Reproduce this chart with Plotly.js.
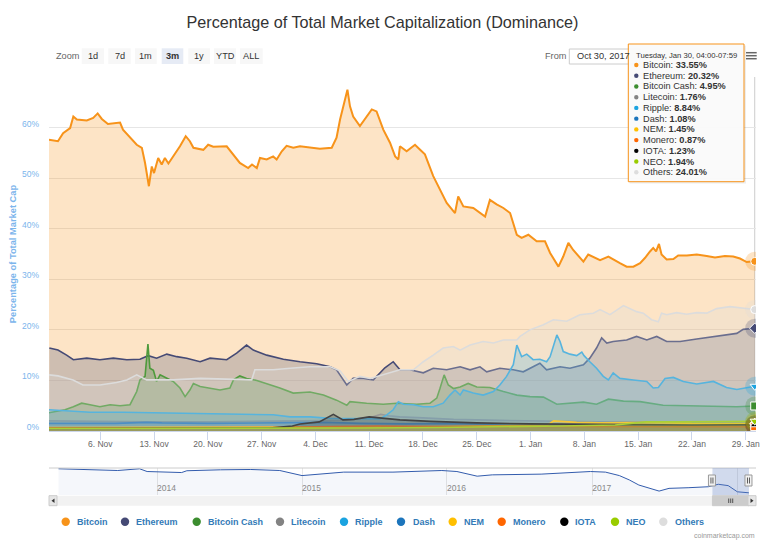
<!DOCTYPE html>
<html><head><meta charset="utf-8">
<script src="https://cdn.plot.ly/plotly-3.0.1.min.js"></script>
<style>html,body{margin:0;padding:0;background:#fff}#chart{width:768px;height:541px}</style>
</head><body><div id="chart"></div>
<script>
// ---------------- DATA ----------------
const seriesNames = ['Bitcoin','Ethereum','Bitcoin Cash','Litecoin','Ripple','Dash','NEM','Monero','IOTA','NEO','Others'];

const btcX = ['2017-10-30 08:00','2017-10-31 12:00','2017-11-01 04:00','2017-11-02 02:00','2017-11-02 12:00','2017-11-02 23:00','2017-11-04 06:00','2017-11-05 02:00','2017-11-05 16:00','2017-11-06 05:00',
'2017-11-07 00:00','2017-11-08 14:00','2017-11-08 23:00','2017-11-09 21:00','2017-11-10 18:00','2017-11-11 10:00','2017-11-11 20:00','2017-11-12 08:00','2017-11-12 17:00','2017-11-13 00:00',
'2017-11-13 13:00','2017-11-14 00:00','2017-11-14 10:00','2017-11-14 21:00','2017-11-15 12:00','2017-11-16 09:00','2017-11-17 03:00','2017-11-17 16:00','2017-11-18 03:00','2017-11-19 10:00',
'2017-11-20 01:00','2017-11-20 17:00','2017-11-22 11:00','2017-11-23 08:00','2017-11-24 04:00','2017-11-25 06:00','2017-11-25 18:00','2017-11-26 09:00','2017-11-26 19:00','2017-11-27 16:00',
'2017-11-28 12:00','2017-11-28 23:00','2017-11-29 15:00','2017-11-30 06:00','2017-12-01 03:00','2017-12-02 00:00','2017-12-03 07:00','2017-12-04 14:00','2017-12-06 03:00','2017-12-06 18:00',
'2017-12-07 05:00','2017-12-07 15:00','2017-12-08 04:00','2017-12-08 12:00','2017-12-08 22:00','2017-12-09 19:00','2017-12-10 16:00','2017-12-11 08:00','2017-12-11 23:00','2017-12-12 20:00',
'2017-12-13 17:00','2017-12-14 09:00','2017-12-14 19:00','2017-12-15 00:00','2017-12-15 21:00','2017-12-16 23:00','2017-12-17 15:00','2017-12-18 06:00','2017-12-19 08:00','2017-12-20 10:00',
'2017-12-21 02:00','2017-12-22 04:00','2017-12-22 14:00','2017-12-23 06:00','2017-12-24 13:00','2017-12-26 02:00','2017-12-26 17:00','2017-12-27 14:00','2017-12-28 11:00','2017-12-29 08:00',
'2017-12-30 05:00','2017-12-30 20:00','2017-12-31 17:00','2018-01-01 19:00','2018-01-02 21:00','2018-01-03 13:00','2018-01-04 15:00','2018-01-05 06:00','2018-01-05 22:00','2018-01-06 13:00',
'2018-01-07 21:00','2018-01-08 12:00','2018-01-10 01:00','2018-01-11 03:00','2018-01-11 18:00','2018-01-12 15:00','2018-01-13 12:00','2018-01-14 09:00','2018-01-15 06:00','2018-01-15 21:00',
'2018-01-16 13:00','2018-01-16 23:00','2018-01-17 08:00','2018-01-17 17:00','2018-01-18 01:00','2018-01-18 17:00','2018-01-19 14:00','2018-01-20 05:00','2018-01-21 08:00','2018-01-22 15:00',
'2018-01-23 22:00','2018-01-25 00:00','2018-01-26 07:00','2018-01-27 09:00','2018-01-28 06:00','2018-01-29 03:00','2018-01-30 04:00'];
const btcY = [57.6,57.3,58.9,59.9,62.2,61.6,61.4,61.9,62.8,61.7,
60.7,61.0,59.6,58.0,56.6,56.0,53.0,48.4,52.3,51.0,
54.0,52.7,54.0,52.9,54.3,56.3,58.3,57.3,56.0,55.6,
56.6,56.2,56.3,54.7,53.0,52.0,52.7,52.0,54.0,53.7,
54.3,53.7,55.3,56.4,56.0,56.3,56.0,55.8,56.0,58.0,
61.6,64.2,67.5,64.2,62.2,60.3,62.2,63.6,63.2,59.6,
57.0,54.3,53.7,56.3,55.3,56.6,55.6,54.7,50.4,47.1,
45.1,43.1,46.4,44.4,44.1,42.4,45.7,44.8,44.1,43.1,
38.8,38.2,38.8,37.5,37.5,35.2,32.5,34.5,37.2,35.8,
33.5,34.9,33.8,34.5,33.9,33.2,32.5,32.5,33.2,34.2,
35.5,36.2,35.5,37.0,34.9,33.9,34.0,34.7,34.7,34.9,
34.6,34.3,34.6,34.5,34.1,33.4,33.55];

const ethX = ['2017-10-30 09:00','2017-10-31 12:00','2017-11-01 15:00','2017-11-02 12:00','2017-11-04 06:00','2017-11-05 23:00','2017-11-07 17:00','2017-11-09 11:00','2017-11-11 04:00','2017-11-12 06:00',
'2017-11-13 08:00','2017-11-14 16:00','2017-11-15 23:00','2017-11-17 06:00','2017-11-19 00:00','2017-11-20 07:00','2017-11-22 11:00','2017-11-23 18:00','2017-11-25 01:00','2017-11-25 22:00',
'2017-11-27 16:00','2017-11-29 20:00','2017-12-02 00:00','2017-12-04 04:00','2017-12-05 22:00','2017-12-06 18:00','2017-12-08 02:00','2017-12-08 22:00','2017-12-10 06:00','2017-12-11 13:00',
'2017-12-13 01:00','2017-12-14 03:00','2017-12-15 00:00','2017-12-16 07:00','2017-12-18 01:00','2017-12-19 08:00','2017-12-21 02:00','2017-12-22 20:00','2017-12-24 03:00','2017-12-25 10:00',
'2017-12-26 07:00','2017-12-28 00:00','2017-12-29 18:00','2017-12-31 01:00','2018-01-02 05:00','2018-01-03 02:00','2018-01-04 20:00','2018-01-06 03:00','2018-01-07 21:00','2018-01-08 17:00',
'2018-01-09 14:00','2018-01-10 06:00','2018-01-10 22:00','2018-01-11 18:00','2018-01-13 12:00','2018-01-14 19:00','2018-01-16 03:00','2018-01-17 10:00','2018-01-18 17:00','2018-01-20 11:00',
'2018-01-22 15:00','2018-01-24 19:00','2018-01-26 12:00','2018-01-27 20:00','2018-01-28 16:00','2018-01-30 04:00'];
const ethY = [16.4,16.0,15.0,14.1,14.4,14.1,14.4,14.1,14.2,14.9,
14.4,15.2,14.7,14.4,13.7,14.4,14.1,15.4,17.0,16.0,
15.0,14.2,13.7,13.3,12.7,12.1,9.1,10.4,10.4,10.1,
12.5,13.7,12.1,12.1,11.5,12.4,12.1,12.7,12.1,12.7,
11.7,12.4,12.1,11.7,13.4,12.1,12.7,12.4,13.1,14.4,
16.4,18.4,17.4,17.7,18.0,18.7,18.0,18.7,17.7,17.7,
18.2,18.7,19.0,19.3,20.1,20.32];

const bchX = ['2017-10-30 08:00','2017-11-01 10:00','2017-11-02 12:00','2017-11-03 14:00','2017-11-04 16:00','2017-11-05 23:00','2017-11-07 07:00','2017-11-08 14:00','2017-11-09 21:00','2017-11-10 18:00',
'2017-11-11 04:00','2017-11-11 20:00','2017-11-12 05:00','2017-11-12 11:00','2017-11-12 22:00','2017-11-13 08:00','2017-11-13 19:00','2017-11-14 16:00','2017-11-15 12:00','2017-11-16 09:00',
'2017-11-17 01:00','2017-11-17 16:00','2017-11-18 03:00','2017-11-19 00:00','2017-11-20 07:00','2017-11-21 14:00','2017-11-22 21:00','2017-11-23 08:00','2017-11-24 04:00','2017-11-25 01:00',
'2017-11-26 09:00','2017-11-27 16:00','2017-11-29 09:00','2017-12-01 03:00','2017-12-03 07:00','2017-12-05 01:00','2017-12-06 18:00','2017-12-08 02:00','2017-12-08 12:00','2017-12-10 16:00',
'2017-12-12 20:00','2017-12-14 14:00','2017-12-17 04:00','2017-12-18 22:00','2017-12-19 19:00','2017-12-20 05:00','2017-12-20 18:00','2017-12-21 07:00','2017-12-21 23:00','2017-12-22 20:00',
'2017-12-23 21:00','2017-12-25 00:00','2017-12-26 17:00','2017-12-28 11:00','2017-12-30 05:00','2017-12-31 22:00','2018-01-02 16:00','2018-01-04 10:00','2018-01-06 03:00','2018-01-07 21:00',
'2018-01-09 14:00','2018-01-11 03:00','2018-01-13 02:00','2018-01-15 06:00','2018-01-18 06:00','2018-01-21 18:00','2018-01-25 05:00','2018-01-27 20:00','2018-01-30 04:00'];
const bchY = [3.6,4.2,4.8,5.5,5.2,4.8,5.2,5.0,5.2,7.8,
10.1,10.8,17.2,12.4,12.0,9.8,11.1,10.4,9.8,8.5,
6.8,8.1,9.4,8.8,8.5,8.1,8.5,10.1,10.9,10.4,
10.0,9.4,8.5,7.5,7.7,7.1,6.1,5.1,5.8,5.5,
5.3,5.5,5.3,5.5,6.5,8.4,11.1,9.1,8.4,8.7,
9.4,8.7,8.6,7.8,7.1,6.8,6.7,5.3,5.5,5.7,
5.3,6.3,5.9,5.8,5.1,5.0,4.9,4.8,4.95];

const ltcX = ['2017-10-30 08:00','2017-11-05 00:00','2017-11-12 06:00','2017-11-20 00:00','2017-11-27 00:00','2017-12-04 00:00','2017-12-08 00:00','2017-12-11 12:00','2017-12-12 12:00','2017-12-13 12:00',
'2017-12-15 00:00','2017-12-18 00:00','2017-12-22 00:00','2017-12-28 00:00','2018-01-03 00:00','2018-01-10 00:00','2018-01-18 00:00','2018-01-25 00:00','2018-01-30 04:00'];
const ltcY = [2.0,1.9,1.8,1.8,1.9,2.0,2.1,2.8,3.3,3.0,2.8,2.6,2.3,2.1,1.9,1.8,1.8,1.75,1.76];

const xrpX = ['2017-10-30 08:00','2017-11-02 02:00','2017-11-04 16:00','2017-11-09 00:00','2017-11-13 08:00','2017-11-17 16:00','2017-11-22 00:00','2017-11-26 09:00','2017-11-28 12:00','2017-11-30 17:00',
'2017-12-03 07:00','2017-12-05 22:00','2017-12-09 09:00','2017-12-12 10:00','2017-12-13 07:00','2017-12-14 03:00','2017-12-14 19:00','2017-12-15 11:00','2017-12-16 18:00','2017-12-18 01:00',
'2017-12-19 08:00','2017-12-20 15:00','2017-12-21 12:00','2017-12-22 04:00','2017-12-22 20:00','2017-12-23 06:00','2017-12-24 13:00','2017-12-25 20:00','2017-12-27 04:00','2017-12-28 00:00',
'2017-12-28 21:00','2017-12-29 18:00','2017-12-30 05:00','2017-12-30 20:00','2017-12-31 12:00','2018-01-01 08:00','2018-01-02 05:00','2018-01-03 02:00','2018-01-03 13:00','2018-01-03 23:00',
'2018-01-04 10:00','2018-01-04 20:00','2018-01-05 06:00','2018-01-06 03:00','2018-01-07 00:00','2018-01-07 16:00','2018-01-07 23:00','2018-01-08 17:00','2018-01-09 14:00','2018-01-10 11:00',
'2018-01-11 03:00','2018-01-11 18:00','2018-01-12 15:00','2018-01-14 09:00','2018-01-16 03:00','2018-01-16 23:00','2018-01-17 15:00','2018-01-18 12:00','2018-01-19 14:00','2018-01-20 21:00',
'2018-01-22 15:00','2018-01-24 19:00','2018-01-26 12:00','2018-01-27 20:00','2018-01-29 03:00','2018-01-30 04:00'];
const xrpY = [4.2,4.0,3.7,3.7,3.6,3.5,3.3,3.3,3.2,2.8,
2.8,2.5,2.4,2.4,3.2,4.2,5.8,5.3,5.2,4.8,
4.8,5.5,7.1,8.1,7.1,8.1,7.5,7.1,7.8,9.1,
10.8,13.1,17.0,14.7,15.2,14.1,14.2,13.7,14.7,16.6,
19.0,17.7,15.7,15.2,14.9,15.6,14.9,13.7,12.4,10.8,
10.1,11.5,10.4,10.1,9.8,8.5,8.6,10.4,10.6,9.8,
9.3,9.8,8.6,8.2,8.6,8.84];

const dashX = ['2017-10-30 08:00','2017-11-08 00:00','2017-11-12 00:00','2017-11-14 00:00','2017-11-20 00:00','2017-11-28 00:00','2017-12-05 00:00','2017-12-10 00:00','2017-12-16 00:00','2017-12-22 00:00',
'2017-12-28 00:00','2018-01-05 00:00','2018-01-12 00:00','2018-01-20 00:00','2018-01-30 04:00'];
const dashY = [1.5,1.5,1.7,1.6,1.5,1.6,1.7,1.5,1.4,1.5,1.3,1.2,1.1,1.05,1.08];

const nemX = ['2017-10-30 08:00','2017-11-15 00:00','2017-11-30 00:00','2017-12-10 00:00','2017-12-20 00:00','2017-12-31 00:00','2018-01-03 06:00','2018-01-04 00:00','2018-01-05 00:00','2018-01-07 00:00',
'2018-01-10 00:00','2018-01-14 00:00','2018-01-17 00:00','2018-01-22 00:00','2018-01-30 04:00'];
const nemY = [0.7,0.7,0.8,0.8,0.9,1.1,1.2,2.0,1.9,1.7,1.6,1.6,1.7,1.5,1.45];

const xmrX = ['2017-10-30 08:00','2017-11-15 00:00','2017-11-28 00:00','2017-12-06 00:00','2017-12-12 00:00','2017-12-20 00:00','2017-12-30 00:00','2018-01-08 00:00','2018-01-18 00:00','2018-01-30 04:00'];
const xmrY = [0.6,0.6,0.7,0.9,1.0,0.9,0.9,0.9,0.85,0.87];

const iotaX = ['2017-10-30 08:00','2017-11-20 00:00','2017-11-28 00:00','2017-12-01 00:00','2017-12-02 00:00','2017-12-04 12:00','2017-12-06 08:00','2017-12-07 14:00','2017-12-09 00:00','2017-12-11 00:00',
'2017-12-13 06:00','2017-12-15 00:00','2017-12-19 00:00','2017-12-25 00:00','2018-01-01 00:00','2018-01-08 00:00','2018-01-15 00:00','2018-01-22 00:00','2018-01-30 04:00'];
const iotaY = [0.5,0.5,0.6,1.0,1.4,1.8,3.3,2.2,2.3,2.8,2.4,2.2,1.9,1.6,1.4,1.3,1.2,1.2,1.23];

const neoX = ['2017-10-30 08:00','2017-11-10 00:00','2017-11-20 00:00','2017-12-01 00:00','2017-12-10 00:00','2017-12-20 00:00','2017-12-28 00:00','2018-01-05 00:00','2018-01-12 00:00','2018-01-14 00:00',
'2018-01-16 00:00','2018-01-20 00:00','2018-01-25 00:00','2018-01-30 04:00'];
const neoY = [0.5,0.5,0.6,0.6,0.6,0.7,0.8,1.0,1.2,1.5,1.8,1.8,1.9,1.94];

const othX = ['2017-10-30 08:00','2017-10-31 12:00','2017-11-02 11:00','2017-11-03 18:00','2017-11-05 23:00','2017-11-08 03:00','2017-11-09 11:00','2017-11-10 18:00','2017-11-12 01:00','2017-11-13 08:00',
'2017-11-15 12:00','2017-11-19 00:00','2017-11-23 08:00','2017-11-25 17:00','2017-11-26 03:00','2017-11-28 12:00','2017-11-30 17:00','2017-12-03 07:00','2017-12-05 22:00','2017-12-07 05:00',
'2017-12-08 07:00','2017-12-09 19:00','2017-12-11 03:00','2017-12-12 20:00','2017-12-15 00:00','2017-12-16 18:00','2017-12-18 01:00','2017-12-19 08:00','2017-12-20 15:00','2017-12-21 23:00',
'2017-12-22 20:00','2017-12-24 03:00','2017-12-25 20:00','2017-12-27 04:00','2017-12-28 11:00','2017-12-30 05:00','2017-12-30 15:00','2017-12-31 22:00','2018-01-02 16:00','2018-01-03 23:00',
'2018-01-05 17:00','2018-01-07 10:00','2018-01-09 04:00','2018-01-10 01:00','2018-01-11 08:00','2018-01-13 02:00','2018-01-14 19:00','2018-01-15 16:00','2018-01-16 18:00','2018-01-17 15:00',
'2018-01-18 01:00','2018-01-18 17:00','2018-01-20 00:00','2018-01-21 08:00','2018-01-22 15:00','2018-01-23 22:00','2018-01-25 05:00','2018-01-26 23:00','2018-01-28 06:00','2018-01-30 04:00'];
const othY = [11.1,10.9,10.1,9.1,9.1,9.6,10.1,11.1,10.1,10.1,
10.1,10.4,10.3,10.1,12.1,12.1,12.4,12.7,12.7,11.9,
9.8,10.8,10.4,11.1,12.1,12.1,13.7,15.0,16.4,16.7,
16.0,17.0,17.7,17.4,18.0,18.0,18.7,20.0,21.0,22.0,
21.7,23.0,23.3,24.0,23.0,24.8,23.6,23.3,22.0,21.6,
23.3,23.0,23.4,23.1,23.4,23.3,24.2,24.6,24.4,24.01];

// navigator: Bitcoin dominance, whole history
const navX = ['2013-04-28','2013-08-05','2013-09-24','2013-11-18','2013-12-07','2014-03-04','2014-03-17','2014-06-10','2014-08-25','2014-11-06',
'2014-12-14','2015-01-01','2015-04-16','2015-08-18','2015-12-19','2016-01-26','2016-03-17','2016-04-24','2016-08-25','2016-12-27',
'2017-02-03','2017-03-10','2017-04-04','2017-04-28','2017-06-18','2017-07-13','2017-08-30','2017-10-20','2017-11-14','2017-12-09',
'2018-01-01','2018-01-26','2018-01-30'];
const navY = [95,92.4,90.6,95,88,85.4,90,92.4,93.2,90.6,
81.3,77.6,86.5,86.5,90.6,88,76.1,79.5,81.3,88,
86.5,77.6,66.5,53.5,38,45,46.6,49.1,55.4,52,
36.2,34.6,33.6];

const yTickVals = [0,10,20,30,40,50,60,70];
const yTickText = ['0%','10%','20%','30%','40%','50%','60%',''];
const zoomButtons = ['1d','7d','1m','3m','1y','YTD','ALL'];
const tooltipHeader = 'Tuesday, Jan 30, 04:00-07:59';
const mainRange = ['2017-10-30 08:00','2018-01-30 08:00'];
const navRange = ['2013-04-04','2018-02-17'];

// ---------------- STYLE ----------------
const seriesColors = ['#f7931a','#454a75','#3c8d2f','#838383','#1aa3e0','#1c75bc','#ffbf00','#ff6600','#000000','#99cc00','#dddddd'];
const lineColors   = ['#f7931a','#454a75','#4e9a3c','#838383','#2aa7df','#1c75bc','#ffbf00','#ff6600','#111111','#99cc00','#dcdcdc'];
const seriesSymbols = ['circle','diamond','square','triangle-up','triangle-down','circle','diamond','square','triangle-up','triangle-down','circle'];
const FONT = 'Liberation Sans, Arial, sans-serif';

const W=768,H=541,ML=49,MR=12,MT=77,MB=46;
const PW=W-ML-MR, PH=H-MT-MB;
const px = v => (v-ML)/PW;
const py = v => (H-MB-v)/PH;

function rgba(hex,a){const n=parseInt(hex.slice(1),16);return `rgba(${n>>16},${(n>>8)&255},${n&255},${a})`;}

const seriesX=[btcX,ethX,bchX,ltcX,xrpX,dashX,nemX,xmrX,iotaX,neoX,othX];
const seriesY=[btcY,ethY,bchY,ltcY,xrpY,dashY,nemY,xmrY,iotaY,neoY,othY];

const traces=[];
seriesNames.forEach((name,i)=>{
  traces.push({type:'scatter',mode:'lines',name:name,x:seriesX[i],y:seriesY[i],
    fill:'tozeroy',fillcolor:rgba(seriesColors[i],0.25),
    line:{color:lineColors[i],width:i===0?2:1.6},showlegend:false,xaxis:'x',yaxis:'y'});
});
const lastX = seriesX.map(a=>a[a.length-1]);
const lastY = seriesY.map(a=>a[a.length-1]);
traces.push({type:'scatter',mode:'markers',x:lastX,y:lastY,showlegend:false,
  marker:{size:19,color:seriesColors,opacity:0.25,line:{width:0}}});
traces.push({type:'scatter',mode:'markers',x:lastX,y:lastY,showlegend:false,
  marker:{size:8,color:seriesColors,symbol:seriesSymbols,line:{color:'#ffffff',width:1}}});
traces.push({type:'scatter',mode:'lines',x:navX,y:navY,xaxis:'x2',yaxis:'y2',showlegend:false,
  fill:'tozeroy',fillcolor:'rgba(51,92,173,0.05)',line:{color:'#335cad',width:1}});

const mainBottom = py(431);
const navTop = py(468);

const shapes=[];
const annotations=[];

// crosshair at hovered point
shapes.push({type:'line',xref:'x',yref:'paper',x0:lastX[0],x1:lastX[0],y0:mainBottom,y1:1,line:{color:'#cccccc',width:1},layer:'below'});

// navigator decorations
shapes.push({type:'line',xref:'paper',yref:'paper',x0:0,x1:1,y0:navTop,y1:navTop,line:{color:'#cccccc',width:1}});
shapes.push({type:'rect',xref:'x2',yref:'paper',x0:mainRange[0],x1:mainRange[1],y0:0,y1:navTop,fillcolor:'rgba(102,133,194,0.3)',line:{width:0}});
mainRange.forEach(d=>{
  shapes.push({type:'rect',xref:'x2',yref:'paper',xsizemode:'pixel',xanchor:d,x0:-4,x1:3,y0:py(486),y1:py(475),fillcolor:'#f2f2f2',line:{color:'#999999',width:1}});
  shapes.push({type:'line',xref:'x2',yref:'paper',xsizemode:'pixel',xanchor:d,x0:-1.5,x1:-1.5,y0:py(483.5),y1:py(477.5),line:{color:'#333',width:0.8}});
  shapes.push({type:'line',xref:'x2',yref:'paper',xsizemode:'pixel',xanchor:d,x0:0.5,x1:0.5,y0:py(483.5),y1:py(477.5),line:{color:'#333',width:0.8}});
});
// scrollbar
shapes.push({type:'rect',xref:'paper',yref:'paper',x0:0,x1:1,y0:py(505.7),y1:py(495.7),fillcolor:'#f2f2f2',line:{width:0}});
shapes.push({type:'rect',xref:'x2',yref:'paper',x0:mainRange[0],x1:mainRange[1],y0:py(505.7),y1:py(495.7),fillcolor:'#cccccc',line:{color:'#cccccc',width:1}});
shapes.push({type:'rect',xref:'paper',yref:'paper',x0:px(49),x1:px(57),y0:py(505.7),y1:py(495.7),fillcolor:'#e6e6e6',line:{color:'#cccccc',width:1}});
shapes.push({type:'rect',xref:'paper',yref:'paper',x0:px(748),x1:px(756),y0:py(505.7),y1:py(495.7),fillcolor:'#e6e6e6',line:{color:'#cccccc',width:1}});
shapes.push({type:'path',xref:'paper',yref:'paper',path:`M${px(51.5)},${py(500.7)} L${px(54.5)},${py(498.5)} L${px(54.5)},${py(502.9)} Z`,fillcolor:'#333',line:{width:0}});
shapes.push({type:'path',xref:'paper',yref:'paper',path:`M${px(753.5)},${py(500.7)} L${px(750.5)},${py(498.5)} L${px(750.5)},${py(502.9)} Z`,fillcolor:'#333',line:{width:0}});
const midT = new Date((new Date(mainRange[0]+'Z').getTime()+new Date(mainRange[1]+'Z').getTime())/2).toISOString().slice(0,16).replace('T',' ');
[-2,0,2].forEach(o=>shapes.push({type:'line',xref:'x2',yref:'paper',xsizemode:'pixel',xanchor:midT,x0:o,x1:o,y0:py(503),y1:py(498.5),line:{color:'#333',width:0.8}}));

// range selector buttons
const btnL=[81.7,108.3,135,161.7,188.3,214,240], btnR=[104,130.7,156.7,183.3,210,236,262.7];
annotations.push({xref:'paper',yref:'paper',x:px(54.3),y:py(55.7),xanchor:'left',yanchor:'middle',text:'Zoom',showarrow:false,font:{size:9.2,color:'#666666',family:FONT}});
zoomButtons.forEach((b,i)=>{
  const sel = b==='3m';
  shapes.push({type:'rect',xref:'paper',yref:'paper',x0:px(btnL[i]),x1:px(btnR[i]),y0:py(64),y1:py(48.3),fillcolor:sel?'#e6ebf5':'#f7f7f7',line:{width:0}});
  annotations.push({xref:'paper',yref:'paper',x:px((btnL[i]+btnR[i])/2),y:py(56),xanchor:'center',yanchor:'middle',text:sel?'<b>'+b+'</b>':b,showarrow:false,font:{size:9.2,color:'#333333',family:FONT}});
});
// From input
annotations.push({xref:'paper',yref:'paper',x:px(542.7),y:py(55.7),xanchor:'left',yanchor:'middle',text:'From',showarrow:false,font:{size:9.2,color:'#666666',family:FONT}});
shapes.push({type:'rect',xref:'paper',yref:'paper',x0:px(569.3),x1:px(640),y0:py(64),y1:py(49),fillcolor:'#ffffff',line:{color:'#cccccc',width:1}});
annotations.push({xref:'paper',yref:'paper',x:px(575),y:py(56.5),xanchor:'left',yanchor:'middle',text:'Oct 30, 2017',showarrow:false,font:{size:9.2,color:'#333333',family:FONT}});
// hamburger
[52.7,55.7,58.7].forEach(y=>shapes.push({type:'line',xref:'paper',yref:'paper',x0:px(746),x1:px(756.7),y0:py(y),y1:py(y),line:{color:'#666666',width:1.5}}));

// tooltip
shapes.push({type:'rect',xref:'paper',yref:'paper',x0:px(629.5),x1:px(746),y0:py(183.5),y1:py(45.5),fillcolor:'rgba(0,0,0,0.07)',line:{width:0},layer:'above'});
shapes.push({type:'rect',xref:'paper',yref:'paper',x0:px(628.3),x1:px(744),y0:py(181.7),y1:py(44),fillcolor:'rgba(250,250,250,0.96)',line:{color:'#f7931a',width:1},layer:'above'});
annotations.push({xref:'paper',yref:'paper',x:px(634),y:py(55),xanchor:'left',yanchor:'middle',text:tooltipHeader,showarrow:false,font:{size:7.7,color:'#333333',family:FONT}});
seriesNames.forEach((n,i)=>{
  const ry = 65 + i*10.73;
  shapes.push({type:'circle',xref:'paper',yref:'paper',xsizemode:'pixel',ysizemode:'pixel',xanchor:px(636.3),yanchor:py(ry),x0:-2.2,x1:2.2,y0:-2.2,y1:2.2,fillcolor:seriesColors[i],line:{width:0},layer:'above'});
  annotations.push({xref:'paper',yref:'paper',x:px(640.5),y:py(ry),xanchor:'left',yanchor:'middle',text:n+': <b>'+lastY[i].toFixed(2)+'%</b>',showarrow:false,font:{size:9.2,color:'#333333',family:FONT}});
});

// legend
const legCX=[65.7,125,196.7,280,344,401,452.7,501.7,564.3,615,663.3];
const legTX=[75,134.3,206,289.3,353.3,411,462,511,573.3,624.3,672.7];
seriesNames.forEach((n,i)=>{
  shapes.push({type:'circle',xref:'paper',yref:'paper',xsizemode:'pixel',ysizemode:'pixel',xanchor:px(legCX[i]),yanchor:py(521.7),x0:-4.2,x1:4.2,y0:-4.2,y1:4.2,fillcolor:seriesColors[i],line:{width:0}});
  annotations.push({xref:'paper',yref:'paper',x:px(legTX[i]),y:py(521.7),xanchor:'left',yanchor:'middle',text:'<b>'+n+'</b>',showarrow:false,font:{size:9,color:'#337ab7',family:FONT}});
});
annotations.push({xref:'paper',yref:'paper',x:px(756.5),y:py(535.7),xanchor:'right',yanchor:'middle',text:'coinmarketcap.com',showarrow:false,font:{size:7,color:'#999999',family:FONT}});

const layout={
  width:W,height:H,margin:{l:ML,r:MR,t:MT,b:MB,pad:0},
  paper_bgcolor:'#ffffff',plot_bgcolor:'rgba(0,0,0,0)',
  font:{family:FONT,color:'#333333'},
  showlegend:false,
  title:{text:'Percentage of Total Market Capitalization (Dominance)',xref:'container',yref:'container',x:0.498,y:1-22/H,xanchor:'center',yanchor:'middle',font:{size:16.2,color:'#333333',family:FONT}},
  xaxis:{domain:[0,1],anchor:'y',type:'date',range:mainRange,tick0:'2017-11-06',dtick:7*86400000,tickformat:'%-d. %b',
    ticks:'outside',ticklen:8,tickcolor:'#ccd6eb',tickwidth:1,tickfont:{size:8.5,color:'#666666'},ticklabelstandoff:-3,
    showgrid:false,showline:true,linecolor:'#ccd6eb',linewidth:1,zeroline:false,fixedrange:true},
  yaxis:{domain:[mainBottom,1],anchor:'x',range:[0,70],tickvals:yTickVals,ticktext:yTickText,
    gridcolor:'#e6e6e6',gridwidth:1,zeroline:false,showline:false,ticks:'',
    tickfont:{size:8.5,color:'#7cb5ec'},ticklabelshift:-4,ticklabelstandoff:9,
    title:{text:'<b>Percentage of Total Market Cap</b>',font:{size:9.3,color:'#7cb5ec'},standoff:3},fixedrange:true},
  xaxis2:{domain:[0,1],anchor:'y2',type:'date',range:navRange,tick0:'2014-01-01',dtick:'M12',tickformat:'%Y',
    ticklabelposition:'inside right',ticklabelstandoff:-4,ticks:'',showgrid:true,gridcolor:'#e6e6e6',zeroline:false,showline:false,
    tickfont:{size:8.5,color:'#888888'},fixedrange:true},
  yaxis2:{domain:[0,navTop],anchor:'x2',range:[28,97],visible:false,showgrid:false,zeroline:false,fixedrange:true},
  shapes:shapes,annotations:annotations
};
Plotly.newPlot('chart',traces,layout,{displayModeBar:false,staticPlot:true});
</script></body></html>
